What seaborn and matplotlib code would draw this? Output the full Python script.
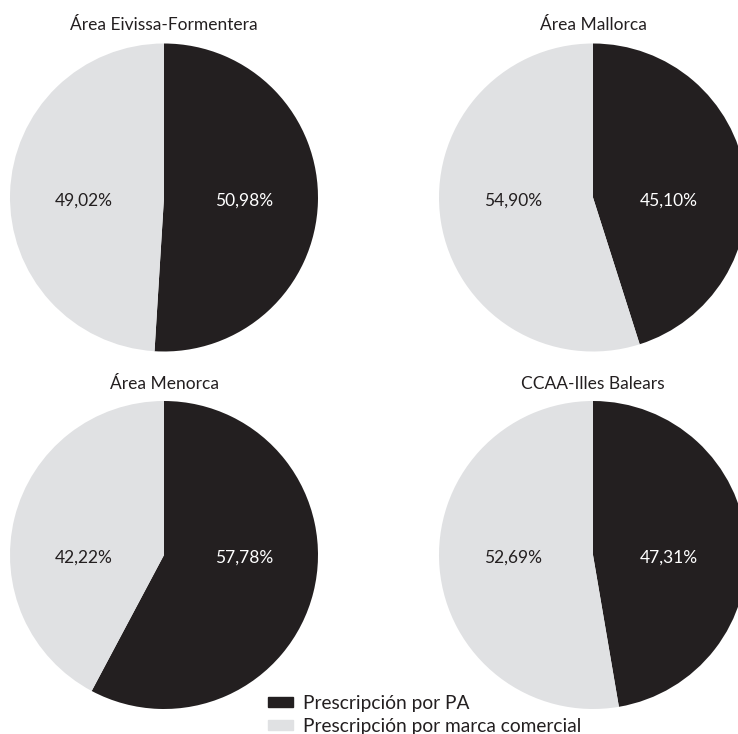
import matplotlib
matplotlib.use("Agg")
import matplotlib.pyplot as plt
import matplotlib.patches as mpatches
import seaborn as sns

sns.set_theme(style="white")
plt.rcParams['font.family'] = ['Lato', 'DejaVu Sans']

titles = ["Área Eivissa-Formentera", "Área Mallorca", "Área Menorca", "CCAA-Illes Balears"]
pa_values = [50.98, 45.10, 57.78, 47.31]
marca_values = [49.02, 54.90, 42.22, 52.69]
series_labels = ["Prescripción por PA", "Prescripción por marca comercial"]

dark = "#231f20"
light = "#e0e1e3"

W, H = 738, 734
fig = plt.figure(figsize=(W / 100, H / 100), dpi=100)
fig.patch.set_facecolor("white")

r = 154
centers = [(164, 197.5), (593, 197.5), (164, 555), (593, 555)]
title_y = [25, 25, 384, 384]

def fmt(v):
    return f"{v:.2f}%".replace(".", ",")

for i, (cx, cy) in enumerate(centers):
    ax = fig.add_axes([(cx - r) / W, (H - (cy + r)) / H, 2 * r / W, 2 * r / H])
    ax.pie([pa_values[i], marca_values[i]], colors=[dark, light], startangle=90,
           counterclock=False, radius=1.0, wedgeprops=dict(linewidth=0, edgecolor="none"))
    ax.set_xlim(-1, 1)
    ax.set_ylim(-1, 1)
    ax.set_aspect("equal")
    ax.axis("off")
    off_d = 0.52 if i % 2 == 0 else 0.49
    ax.text(off_d, -0.02, fmt(pa_values[i]), color="white", ha="center", va="center",
            fontsize=12.5, zorder=5)
    ax.text(-0.52, -0.02, fmt(marca_values[i]), color=dark, ha="center", va="center",
            fontsize=12.5, zorder=5)
    fig.text(cx / W, 1 - title_y[i] / H, titles[i], ha="center", va="center",
             fontsize=12.5, color=dark)

handles = [mpatches.Patch(color=dark, label=series_labels[0]),
           mpatches.Patch(color=light, label=series_labels[1])]
leg = fig.legend(handles=handles, loc="upper left",
                 bbox_to_anchor=(268 / W, 1 - 695 / H), frameon=False,
                 fontsize=13.8, handlelength=1.3, handleheight=0.45,
                 handletextpad=0.55, labelspacing=0.3, borderpad=0, borderaxespad=0)
for t in leg.get_texts():
    t.set_color(dark)

fig.savefig("out.png", dpi=100, facecolor="white")
